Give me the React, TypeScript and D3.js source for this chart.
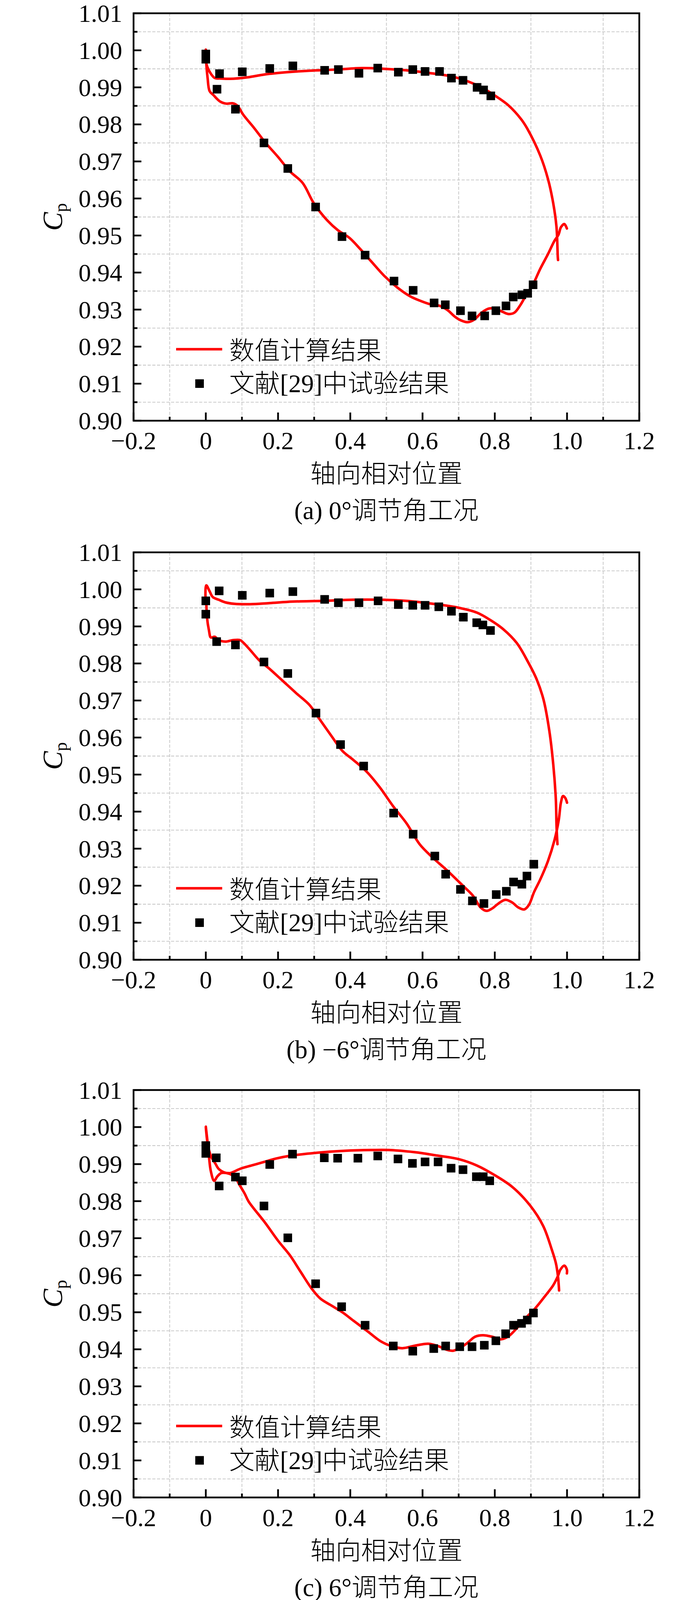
import { useEffect, useRef } from 'react';
import * as d3 from 'd3';

// axis ticks
const xTicks = [-0.2, 0, 0.2, 0.4, 0.6, 0.8, 1.0, 1.2];
const xMinor = [-0.1, 0.1, 0.3, 0.5, 0.7, 0.9, 1.1];
const yTicks = [0.90, 0.91, 0.92, 0.93, 0.94, 0.95, 0.96, 0.97, 0.98, 0.99, 1.00, 1.01];
const yMinor = [0.905, 0.915, 0.925, 0.935, 0.945, 0.955, 0.965, 0.975, 0.985, 0.995, 1.005];

const legendLabels = ['数值计算结果', '文献[29]中试验结果'];
const xTitle = '轴向相对位置';
const captions = ['(a) 0°调节角工况', '(b) −6°调节角工况', '(c) 6°调节角工况'];

// numerical result: trailing edge -> suction side -> leading edge -> pressure side -> trailing edge
const simA: [number, number][] = [
    [0.9751, 0.9434], [0.9744, 0.9442], [0.9708, 0.9523], [0.9618, 0.9587], [0.9474, 0.9652], [0.9258, 0.9716],
    [0.8897, 0.9789], [0.8730, 0.9814], [0.8370, 0.9852], [0.8000, 0.9878], [0.7630, 0.9900], [0.7260, 0.9916],
    [0.6780, 0.9930], [0.6170, 0.9939], [0.5550, 0.9946], [0.4940, 0.9950], [0.4330, 0.9952], [0.3600, 0.9948],
    [0.2870, 0.9945], [0.2250, 0.9941], [0.1640, 0.9935], [0.1150, 0.9927], [0.0670, 0.9923], [0.0400, 0.9924],
    [0.0252, 0.9925], [0.0126, 0.9939], [0.0015, 0.9964], [0.0000, 1.0002], [0.0015, 0.9962], [0.0050, 0.9925],
    [0.0105, 0.9890], [0.0213, 0.9879], [0.0393, 0.9862], [0.0573, 0.9856], [0.0750, 0.9857], [0.0880, 0.9850],
    [0.1030, 0.9827], [0.1340, 0.9790], [0.1640, 0.9752], [0.2010, 0.9711], [0.2320, 0.9674], [0.2680, 0.9642],
    [0.2990, 0.9587], [0.3360, 0.9541], [0.3660, 0.9514], [0.3970, 0.9494], [0.4270, 0.9464], [0.4580, 0.9430],
    [0.4940, 0.9391], [0.5310, 0.9359], [0.5654, 0.9336], [0.5902, 0.9325], [0.6191, 0.9315], [0.6481, 0.9310],
    [0.6688, 0.9299], [0.6894, 0.9281], [0.7059, 0.9271], [0.7245, 0.9266], [0.7431, 0.9273], [0.7638, 0.9292],
    [0.7844, 0.9303], [0.8051, 0.9301], [0.8216, 0.9294], [0.8382, 0.9288], [0.8547, 0.9292], [0.8713, 0.9313],
    [0.8878, 0.9341], [0.9043, 0.9365], [0.9258, 0.9410], [0.9474, 0.9450], [0.9654, 0.9486], [0.9762, 0.9502],
    [0.9835, 0.9523], [0.9924, 0.9531], [0.9996, 0.9519],
];

const simB: [number, number][] = [
    [0.9735, 0.9312], [0.9710, 0.9359], [0.9690, 0.9433], [0.9620, 0.9526], [0.9510, 0.9618], [0.9350, 0.9702],
    [0.9160, 0.9757], [0.8920, 0.9804], [0.8610, 0.9855], [0.8240, 0.9892], [0.7880, 0.9917], [0.7510, 0.9937],
    [0.7020, 0.9950], [0.6290, 0.9961], [0.5560, 0.9969], [0.4820, 0.9972], [0.4090, 0.9972], [0.3230, 0.9969],
    [0.2411, 0.9967], [0.1762, 0.9963], [0.1222, 0.9960], [0.0789, 0.9961], [0.0537, 0.9965], [0.0357, 0.9972],
    [0.0195, 0.9979], [0.0105, 0.9995], [0.0014, 1.0011], [-0.0010, 0.9985], [0.0014, 0.9960], [0.0032, 0.9925],
    [0.0086, 0.9890], [0.0141, 0.9870], [0.0249, 0.9872], [0.0357, 0.9863], [0.0537, 0.9859], [0.0754, 0.9863],
    [0.0951, 0.9863], [0.1041, 0.9856], [0.1222, 0.9837], [0.1474, 0.9809], [0.1770, 0.9785], [0.2130, 0.9753],
    [0.2500, 0.9720], [0.2870, 0.9688], [0.3110, 0.9655], [0.3480, 0.9604], [0.3780, 0.9564], [0.4090, 0.9539],
    [0.4460, 0.9507], [0.4820, 0.9465], [0.5190, 0.9414], [0.5560, 0.9368], [0.5920, 0.9312], [0.6290, 0.9275],
    [0.6660, 0.9243], [0.7106, 0.9201], [0.7395, 0.9173], [0.7610, 0.9141], [0.7773, 0.9132], [0.7935, 0.9139],
    [0.8116, 0.9153], [0.8295, 0.9162], [0.8476, 0.9155], [0.8656, 0.9141], [0.8818, 0.9136], [0.8944, 0.9148],
    [0.9088, 0.9183], [0.9250, 0.9215], [0.9470, 0.9266], [0.9650, 0.9322], [0.9770, 0.9377], [0.9830, 0.9424],
    [0.9890, 0.9442], [0.9950, 0.9437], [1.0000, 0.9424],
];

const simC: [number, number][] = [
    [0.9780, 0.9559], [0.9748, 0.9598], [0.9690, 0.9633], [0.9582, 0.9668], [0.9340, 0.9733], [0.8980, 0.9788],
    [0.8490, 0.9838], [0.8000, 0.9870], [0.7510, 0.9896], [0.7020, 0.9913], [0.6410, 0.9923], [0.5800, 0.9932],
    [0.5070, 0.9938], [0.4580, 0.9938], [0.3850, 0.9936], [0.3110, 0.9931], [0.2303, 0.9922], [0.1943, 0.9915],
    [0.1618, 0.9906], [0.1294, 0.9897], [0.0970, 0.9888], [0.0681, 0.9876], [0.0573, 0.9876], [0.0429, 0.9876],
    [0.0321, 0.9867], [0.0230, 0.9855], [0.0141, 0.9880], [0.0086, 0.9922], [0.0051, 0.9957], [0.0000, 1.0001],
    [0.0051, 0.9955], [0.0141, 0.9922], [0.0267, 0.9901], [0.0357, 0.9887], [0.0500, 0.9878], [0.0681, 0.9873],
    [0.0825, 0.9862], [0.0933, 0.9844], [0.1078, 0.9820], [0.1186, 0.9799], [0.1640, 0.9742], [0.2010, 0.9692],
    [0.2320, 0.9655], [0.2620, 0.9610], [0.2930, 0.9564], [0.3170, 0.9537], [0.3480, 0.9518], [0.3780, 0.9500],
    [0.4090, 0.9477], [0.4460, 0.9450], [0.4820, 0.9423], [0.5130, 0.9409], [0.5438, 0.9403], [0.5798, 0.9410],
    [0.6159, 0.9415], [0.6447, 0.9408], [0.6663, 0.9399], [0.6843, 0.9396], [0.7023, 0.9403], [0.7239, 0.9417],
    [0.7456, 0.9434], [0.7672, 0.9438], [0.7924, 0.9434], [0.8176, 0.9427], [0.8392, 0.9436], [0.8609, 0.9457],
    [0.8861, 0.9485], [0.9114, 0.9510], [0.9402, 0.9545], [0.9618, 0.9573], [0.9748, 0.9598], [0.9816, 0.9615],
    [0.9924, 0.9626], [0.9996, 0.9615], [0.9996, 0.9605],
];

// test data from ref. [29]
const expA: [number, number][] = [
    [0, 0.9990], [0, 0.9976], [0.031, 0.9895], [0.038, 0.9937], [0.082, 0.9841], [0.101, 0.9942], [0.161, 0.9750],
    [0.177, 0.9951], [0.227, 0.9681], [0.241, 0.9958], [0.304, 0.9577], [0.329, 0.9946], [0.367, 0.9948],
    [0.377, 0.9497], [0.424, 0.9938], [0.441, 0.9447], [0.476, 0.9952], [0.521, 0.9377], [0.533, 0.9941],
    [0.573, 0.9948], [0.574, 0.9352], [0.607, 0.9943], [0.632, 0.9318], [0.647, 0.9943], [0.663, 0.9313],
    [0.680, 0.9925], [0.705, 0.9297], [0.712, 0.9919], [0.737, 0.9283], [0.751, 0.9900], [0.769, 0.9893],
    [0.772, 0.9283], [0.789, 0.9877], [0.803, 0.9297], [0.831, 0.9310], [0.851, 0.9334], [0.875, 0.9340],
    [0.891, 0.9344], [0.906, 0.9367],
];

const expB: [number, number][] = [
    [0, 0.9969], [0, 0.9933], [0.030, 0.9859], [0.037, 0.9996], [0.082, 0.9850], [0.101, 0.9984], [0.161, 0.9804],
    [0.177, 0.9990], [0.227, 0.9773], [0.241, 0.9994], [0.305, 0.9666], [0.329, 0.9973], [0.367, 0.9964],
    [0.373, 0.9581], [0.424, 0.9964], [0.437, 0.9523], [0.477, 0.9969], [0.520, 0.9396], [0.533, 0.9959],
    [0.573, 0.9957], [0.574, 0.9339], [0.607, 0.9957], [0.634, 0.9280], [0.645, 0.9953], [0.664, 0.9231],
    [0.680, 0.9941], [0.705, 0.9190], [0.713, 0.9925], [0.738, 0.9159], [0.750, 0.9910], [0.767, 0.9904],
    [0.770, 0.9152], [0.788, 0.9889], [0.804, 0.9176], [0.832, 0.9185], [0.852, 0.9210], [0.875, 0.9204],
    [0.889, 0.9226], [0.908, 0.9258],
];

const expC: [number, number][] = [
    [0, 0.9950], [0, 0.9929], [0.029, 0.9917], [0.037, 0.9841], [0.082, 0.9865], [0.101, 0.9855], [0.161, 0.9787],
    [0.177, 0.9899], [0.227, 0.9701], [0.240, 0.9927], [0.304, 0.9577], [0.328, 0.9917], [0.365, 0.9916],
    [0.376, 0.9515], [0.421, 0.9916], [0.441, 0.9465], [0.476, 0.9922], [0.519, 0.9409], [0.532, 0.9914],
    [0.572, 0.9902], [0.573, 0.9395], [0.607, 0.9906], [0.631, 0.9402], [0.643, 0.9906], [0.664, 0.9409],
    [0.679, 0.9889], [0.703, 0.9407], [0.712, 0.9885], [0.737, 0.9407], [0.749, 0.9866], [0.768, 0.9866],
    [0.771, 0.9411], [0.786, 0.9855], [0.803, 0.9423], [0.830, 0.9442], [0.852, 0.9465], [0.874, 0.9470],
    [0.890, 0.9479], [0.907, 0.9498],
];

const W = 1772;
const H = 4098;
const FONT = "'Liberation Serif', 'Times New Roman', 'Noto Sans CJK SC', serif";

const CpChart = () => {
    const svgRef = useRef<SVGSVGElement | null>(null);

    useEffect(() => {
        const svg = d3.select(svgRef.current);
        svg.selectAll('*').remove();

        const marginLeft = 342;
        const plotRight = 1637;
        const plotH = 1043;
        const panels = [
            { top: 34, sim: simA, exp: expA, caption: captions[0] },
            { top: 1414, sim: simB, exp: expB, caption: captions[1] },
            { top: 2790.5, sim: simC, exp: expC, caption: captions[2] },
        ];

        const fmtX = (v: number) => (v === 0 ? '0' : v.toFixed(1).replace('-', '\u2212'));

        panels.forEach(p => {
            const bottom = p.top + plotH;
            const x = d3.scaleLinear().domain([-0.2, 1.2]).range([marginLeft, plotRight]);
            const y = d3.scaleLinear().domain([0.90, 1.01]).range([bottom, p.top]);
            const g = svg.append('g');

            // dashed grid on minor positions
            g.append('g')
                .selectAll('line')
                .data(xMinor)
                .join('line')
                .attr('x1', d => x(d)).attr('x2', d => x(d))
                .attr('y1', p.top).attr('y2', bottom)
                .attr('stroke', '#c4c4c4').attr('stroke-width', 1.8).attr('stroke-dasharray', '8,4');
            g.append('g')
                .selectAll('line')
                .data(yMinor)
                .join('line')
                .attr('x1', marginLeft).attr('x2', plotRight)
                .attr('y1', d => y(d)).attr('y2', d => y(d))
                .attr('stroke', '#c4c4c4').attr('stroke-width', 1.8).attr('stroke-dasharray', '8,4');

            // numerical curve
            const line = d3.line<[number, number]>()
                .x(d => x(d[0]))
                .y(d => y(d[1]))
                .curve(d3.curveCatmullRom.alpha(0.5));
            g.append('path')
                .attr('d', line(p.sim))
                .attr('fill', 'none')
                .attr('stroke', '#ff0000')
                .attr('stroke-width', 6.5)
                .attr('stroke-linejoin', 'round')
                .attr('stroke-linecap', 'round');

            // test points
            const ms = 22;
            g.append('g')
                .selectAll('rect')
                .data(p.exp)
                .join('rect')
                .attr('x', d => x(d[0]) - ms / 2)
                .attr('y', d => y(d[1]) - ms / 2)
                .attr('width', ms).attr('height', ms)
                .attr('fill', '#000');

            // ticks (inward)
            g.append('g')
                .selectAll('line')
                .data(yTicks)
                .join('line')
                .attr('x1', marginLeft).attr('x2', marginLeft + 20)
                .attr('y1', d => y(d)).attr('y2', d => y(d))
                .attr('stroke', '#000').attr('stroke-width', 4.5);
            g.append('g')
                .selectAll('line')
                .data(yMinor)
                .join('line')
                .attr('x1', marginLeft).attr('x2', marginLeft + 10)
                .attr('y1', d => y(d)).attr('y2', d => y(d))
                .attr('stroke', '#000').attr('stroke-width', 4.5);
            g.append('g')
                .selectAll('line')
                .data(xTicks)
                .join('line')
                .attr('x1', d => x(d)).attr('x2', d => x(d))
                .attr('y1', bottom).attr('y2', bottom - 21)
                .attr('stroke', '#000').attr('stroke-width', 4.5);
            g.append('g')
                .selectAll('line')
                .data(xMinor)
                .join('line')
                .attr('x1', d => x(d)).attr('x2', d => x(d))
                .attr('y1', bottom).attr('y2', bottom - 10)
                .attr('stroke', '#000').attr('stroke-width', 4.5);

            // frame
            g.append('rect')
                .attr('x', marginLeft).attr('y', p.top)
                .attr('width', plotRight - marginLeft).attr('height', plotH)
                .attr('fill', 'none').attr('stroke', '#000').attr('stroke-width', 4.5);

            // tick labels
            g.append('g')
                .selectAll('text')
                .data(yTicks)
                .join('text')
                .attr('x', marginLeft - 29)
                .attr('y', d => y(d) + 22)
                .attr('text-anchor', 'end')
                .attr('font-family', FONT).attr('font-size', 64)
                .text(d => d.toFixed(2));
            g.append('g')
                .selectAll('text')
                .data(xTicks)
                .join('text')
                .attr('x', d => x(d))
                .attr('y', bottom + 73)
                .attr('text-anchor', 'middle')
                .attr('font-family', FONT).attr('font-size', 64)
                .text(d => fmtX(d));

            // axis titles
            g.append('text')
                .attr('x', (marginLeft + plotRight) / 2)
                .attr('y', bottom + 158)
                .attr('text-anchor', 'middle')
                .attr('font-family', FONT).attr('font-size', 65).attr('font-weight', 300)
                .text(xTitle);
            const yl = g.append('text')
                .attr('transform', `translate(159,${p.top + plotH / 2}) rotate(-90)`)
                .attr('text-anchor', 'middle')
                .attr('font-family', FONT);
            yl.append('tspan').attr('font-size', 72).attr('font-style', 'italic').text('C');
            yl.append('tspan').attr('font-size', 46).attr('dy', 12).text('p');

            // caption
            g.append('text')
                .attr('x', (marginLeft + plotRight) / 2)
                .attr('y', bottom + 252)
                .attr('text-anchor', 'middle')
                .attr('font-family', FONT).attr('font-size', 65).attr('font-weight', 300)
                .text(p.caption);

            // legend
            g.append('line')
                .attr('x1', 451).attr('x2', 569)
                .attr('y1', p.top + 860).attr('y2', p.top + 860)
                .attr('stroke', '#ff0000').attr('stroke-width', 6.5);
            g.append('text')
                .attr('x', 587).attr('y', p.top + 886)
                .attr('font-family', FONT).attr('font-size', 65).attr('font-weight', 300)
                .text(legendLabels[0]);
            g.append('rect')
                .attr('x', 511 - ms / 2).attr('y', p.top + 948 - ms / 2)
                .attr('width', ms).attr('height', ms)
                .attr('fill', '#000');
            g.append('text')
                .attr('x', 587).attr('y', p.top + 970)
                .attr('font-family', FONT).attr('font-size', 65).attr('font-weight', 300)
                .text(legendLabels[1]);
        });
    }, []);

    return (
        <svg
            ref={svgRef}
            width={W}
            height={H}
            viewBox={`0 0 ${W} ${H}`}
            style={{ position: 'absolute', left: 0, top: 0, background: '#fff' }}
        />
    );
};

export default function App() {
    return <CpChart />;
}
